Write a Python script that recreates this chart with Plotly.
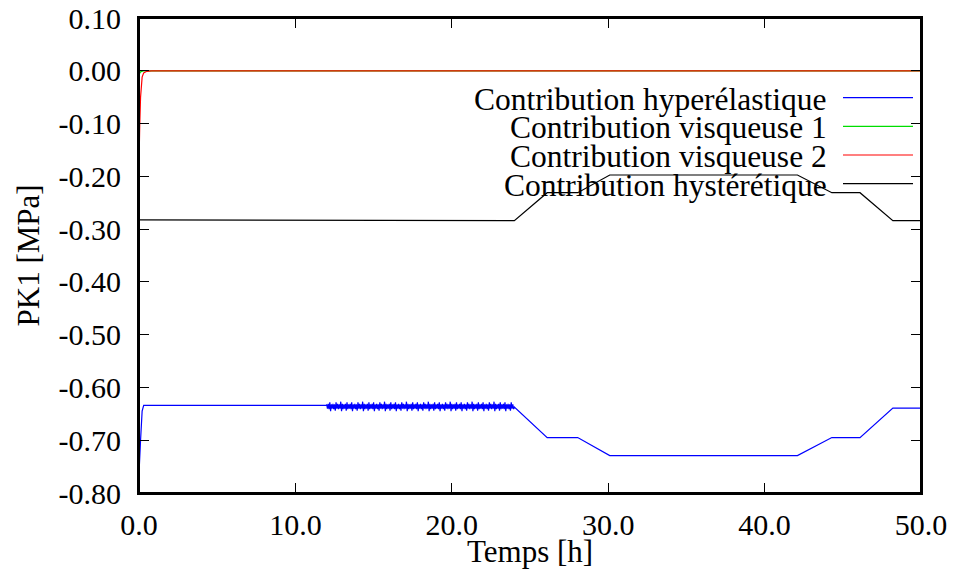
import plotly.graph_objects as go

# ---------------- data ----------------
# Contribution hyperélastique (blue)
hyper_t_start = [0.0, 0.02, 0.1, 0.2, 0.3, 12.0]
hyper_v_start = [-0.280, -0.750, -0.700, -0.645, -0.634, -0.634]
noise_t0 = 12.0
noise_dt = 0.05
hyper_v_noise = [
    -0.632, -0.640, -0.631, -0.641, -0.628, -0.645, -0.632, -0.640, -0.631, -0.641,
    -0.632, -0.644, -0.628, -0.640, -0.631, -0.641, -0.632, -0.640, -0.627, -0.645,
    -0.631, -0.641, -0.632, -0.640, -0.631, -0.644, -0.628, -0.641, -0.632, -0.640,
    -0.631, -0.641, -0.628, -0.645, -0.632, -0.640, -0.631, -0.641, -0.632, -0.644,
    -0.628, -0.640, -0.631, -0.641, -0.632, -0.640, -0.627, -0.645, -0.631, -0.641,
    -0.632, -0.640, -0.631, -0.644, -0.628, -0.641, -0.632, -0.640, -0.631, -0.641,
    -0.628, -0.645, -0.632, -0.640, -0.631, -0.641, -0.632, -0.644, -0.628, -0.640,
    -0.631, -0.641, -0.632, -0.640, -0.627, -0.645, -0.631, -0.641, -0.632, -0.640,
    -0.631, -0.644, -0.628, -0.641, -0.632, -0.640, -0.631, -0.641, -0.628, -0.645,
    -0.632, -0.640, -0.631, -0.641, -0.632, -0.644, -0.628, -0.640, -0.631, -0.641,
    -0.632, -0.640, -0.627, -0.645, -0.631, -0.641, -0.632, -0.640, -0.631, -0.644,
    -0.628, -0.641, -0.632, -0.640, -0.631, -0.641, -0.628, -0.645, -0.632, -0.640,
    -0.631, -0.641, -0.632, -0.644, -0.628, -0.640, -0.631, -0.641, -0.632, -0.640,
    -0.627, -0.645, -0.631, -0.641, -0.632, -0.640, -0.631, -0.644, -0.628, -0.641,
    -0.632, -0.640, -0.631, -0.641, -0.628, -0.645, -0.632, -0.640, -0.631, -0.641,
    -0.632, -0.644, -0.628, -0.640, -0.631, -0.641, -0.632, -0.640, -0.627, -0.645,
    -0.631, -0.641, -0.632, -0.640, -0.631, -0.644, -0.628, -0.641, -0.632, -0.640,
    -0.631, -0.641, -0.628, -0.645, -0.632, -0.640, -0.631, -0.641, -0.632, -0.644,
    -0.628, -0.640, -0.631, -0.641, -0.632, -0.640, -0.627, -0.645, -0.631, -0.641,
    -0.632, -0.640, -0.631, -0.644, -0.628, -0.641, -0.632, -0.640, -0.631, -0.641,
    -0.628, -0.645, -0.632, -0.640, -0.631, -0.641, -0.632, -0.644, -0.628, -0.640,
    -0.631, -0.641, -0.632, -0.640, -0.627, -0.645, -0.631, -0.641, -0.632, -0.640,
    -0.631, -0.644, -0.628, -0.641, -0.632, -0.640, -0.631, -0.641, -0.628, -0.645,
    -0.632, -0.640, -0.631, -0.641, -0.632, -0.644, -0.628, -0.640, -0.632, -0.641,
    -0.637,
]
hyper_t_end = [26.1, 28.05, 30.1, 42.1, 44.3, 46.1, 48.2, 50.0]
hyper_v_end = [-0.695, -0.695, -0.729, -0.729, -0.695, -0.695, -0.639, -0.639]

# Contribution visqueuse 1 (green)
visc1_t = [0.0, 0.02, 0.1, 0.3, 50.0]
visc1_v = [0.0, -0.006, -0.002, 0.0, 0.0]

# Contribution visqueuse 2 (red)
visc2_t = [0.0, 0.02, 0.05, 0.1, 0.15, 0.2, 0.3, 0.5, 0.8, 50.0]
visc2_v = [0.0, -0.145, -0.100, -0.050, -0.025, -0.012, -0.004, -0.001, 0.0, 0.0]

# Contribution hystérétique (black)
hyst_t = [0.0, 24.0, 26.1, 28.05, 30.1, 42.1, 44.3, 46.1, 48.2, 50.0]
hyst_v = [-0.2825, -0.2840, -0.231, -0.231, -0.1975, -0.1975, -0.231, -0.231, -0.284, -0.284]

series_names = ["Contribution hyperélastique", "Contribution visqueuse 1",
                "Contribution visqueuse 2", "Contribution hystérétique"]
series_colors = ["#0000ff", "#00dd00", "#ff0000", "#000000"]

x_tickvals = [0, 10, 20, 30, 40, 50]
x_ticktext = ["0.0", "10.0", "20.0", "30.0", "40.0", "50.0"]
y_tickvals = [0.1, 0.0, -0.1, -0.2, -0.3, -0.4, -0.5, -0.6, -0.7, -0.8]
y_ticktext = ["0.10", "0.00", "-0.10", "-0.20", "-0.30", "-0.40", "-0.50",
              "-0.60", "-0.70", "-0.80"]

# ---------------- build figure ----------------
noise_t = [round(noise_t0 + i * noise_dt, 3) for i in range(len(hyper_v_noise))]
hyper_t = hyper_t_start + noise_t + hyper_t_end
hyper_v = hyper_v_start + hyper_v_noise + hyper_v_end

FONT = "Liberation Serif"
fig = go.Figure()
all_series = [(hyper_t, hyper_v), (visc1_t, visc1_v), (visc2_t, visc2_v), (hyst_t, hyst_v)]
for (t, v), name, col in zip(all_series, series_names, series_colors):
    fig.add_trace(go.Scatter(x=t, y=v, mode="lines", name=name,
                             line=dict(color=col, width=1.2), showlegend=False))

# page has an 8px body margin: figure is 947x567 so that the plot box lands
# at x 139..921, y 18..493 of the 955x575 window
W, H = 947, 567
L, R, T, B = 131, 34, 10, 82
PX0, PX1, PY0, PY1 = 139, 921, 18, 493  # plot box in window pixels


def px_x(x):
    return (x - PX0) / (PX1 - PX0)


def px_y(y):
    return (PY1 - y) / (PY1 - PY0)


# gnuplot-like legend: right-aligned text with sample line on its right
legend_rows = [97.7, 126.3, 155.0, 183.7]
for name, col, yy in zip(series_names, series_colors, legend_rows):
    fig.add_annotation(x=px_x(829), y=px_y(yy + 1.5), xref="paper", yref="paper",
                       text=name, showarrow=False, xanchor="right", yanchor="middle",
                       font=dict(family=FONT, size=31.5, color="black"))
    fig.add_shape(type="line", xref="paper", yref="paper",
                  x0=px_x(843), x1=px_x(913), y0=px_y(yy), y1=px_y(yy),
                  line=dict(color=col, width=1.2))

# full frame around the plot box (gnuplot border)
fig.add_shape(type="rect", xref="paper", yref="paper", x0=0, x1=1, y0=0, y1=1,
              line=dict(color="black", width=2), layer="above")

fig.add_annotation(x=0.5, y=px_y(551), xref="paper", yref="paper", text="Temps [h]",
                   showarrow=False, xanchor="center", yanchor="middle",
                   font=dict(family=FONT, size=31, color="black"))
fig.add_annotation(x=px_x(28), y=0.5, xref="paper", yref="paper", text="PK1 [MPa]",
                   showarrow=False, xanchor="center", yanchor="middle", textangle=-90,
                   font=dict(family=FONT, size=31, color="black"))

axis_common = dict(showline=True, linecolor="black", linewidth=2, mirror="ticks",
                   ticks="inside", ticklen=10, tickcolor="black", tickwidth=1,
                   showgrid=False, zeroline=False, automargin=False,
                   ticklabeloverflow="allow",
                   tickfont=dict(family=FONT, size=30, color="black"))
fig.update_xaxes(range=[0, 50], tickmode="array", tickvals=x_tickvals,
                 ticktext=x_ticktext, ticklabelstandoff=4, **axis_common)
fig.update_yaxes(range=[-0.8, 0.1], tickmode="array", tickvals=y_tickvals,
                 ticktext=y_ticktext, ticklabelstandoff=10, **axis_common)

fig.update_layout(width=W, height=H, margin=dict(l=L, r=R, t=T, b=B, autoexpand=False),
                  plot_bgcolor="white", paper_bgcolor="white", showlegend=False,
                  font=dict(family=FONT, size=30, color="black"))

fig.write_html("out.html")
